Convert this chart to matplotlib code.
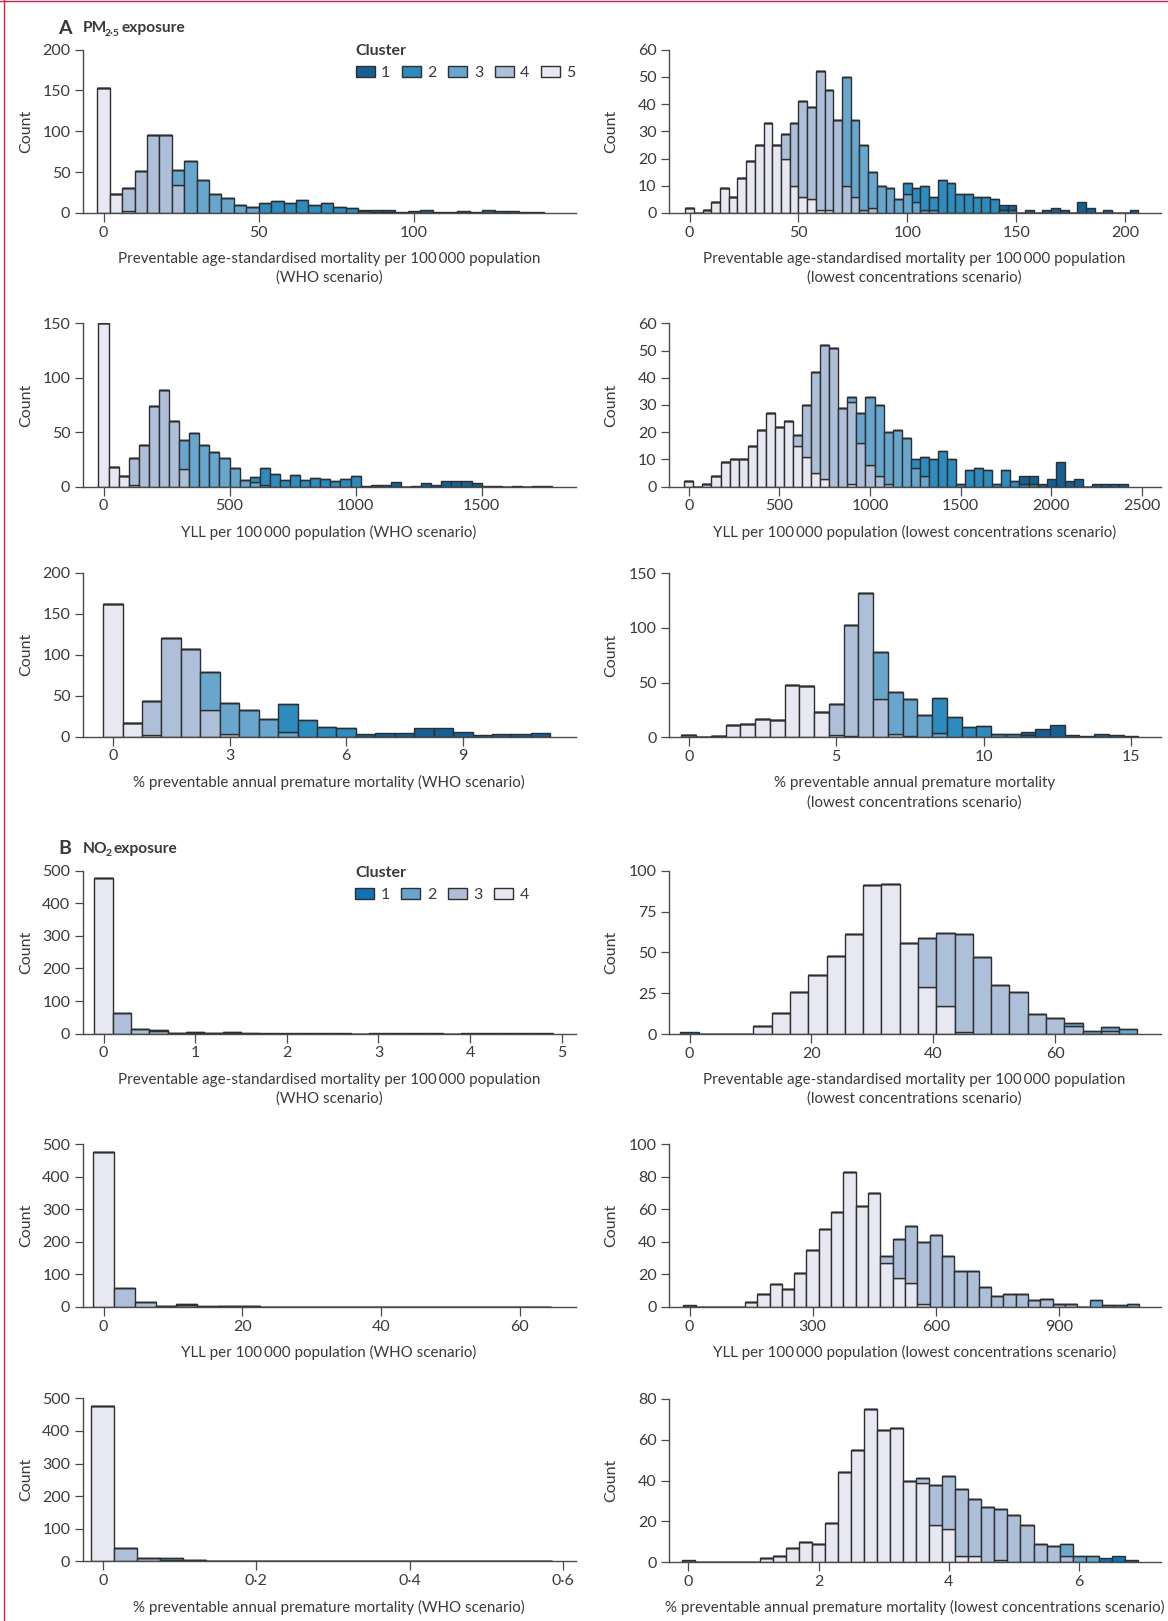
# -*- coding: utf-8 -*-
import numpy as np
import matplotlib
matplotlib.use('Agg')
import matplotlib.pyplot as plt
from matplotlib.lines import Line2D
from matplotlib.patches import Patch

W, H = 1168, 1621
TEXT = '#3a3a3a'
EDGE = '#2e2e2e'
AXIS = '#4a4a4a'
plt.rcParams['font.family'] = ['Lato', 'DejaVu Sans']

PM_COLORS = {1: '#175f92', 2: '#2e8bbd', 3: '#69a6cd', 4: '#aec0d9', 5: '#e8e8f2'}
NO_COLORS = {1: '#0f72b3', 2: '#69a6cd', 3: '#aec0d9', 4: '#e8e8f2'}

# PM2.5, WHO scenario: mortality (bin width 4)
A1_BIN = 4
A1_C5 = [153, 23, 3]
A1_C4 = [0, 0, 27, 51, 96, 96, 34]
A1_C3 = [0, 0, 0, 0, 0, 0, 18, 64, 40, 23, 18, 10, 7]
A1_C2 = [0, 0, 0, 0, 0, 0, 0, 0, 0, 0, 0, 0, 0, 12, 15, 12, 16, 10, 12, 7, 6, 3, 1, 1]
A1_C1 = [0, 0, 0, 0, 0, 0, 0, 0, 0, 0, 0, 0, 0, 0, 0, 0, 0, 0, 0, 0, 0, 1, 3, 3, 1, 3, 4, 1, 1, 2, 1, 4, 2, 2, 1, 1]

# PM2.5, lowest concentrations: mortality (bin width 4)
A2_BIN = 4
A2_C5 = [2, 0, 1, 4, 9, 6, 13, 19, 25, 33, 25, 20, 10, 6, 5, 1, 1]
A2_C4 = [0, 0, 0, 0, 0, 0, 0, 0, 0, 0, 0, 9, 23, 35, 34, 51, 44, 34, 10, 6, 1, 2]
A2_C3 = [0, 0, 0, 0, 0, 0, 0, 0, 0, 0, 0, 0, 0, 0, 0, 0, 0, 0, 40, 28, 24, 13, 10, 9, 5, 7, 4, 1, 1]
A2_C2 = [0, 0, 0, 0, 0, 0, 0, 0, 0, 0, 0, 0, 0, 0, 0, 0, 0, 0, 0, 0, 0, 0, 0, 0, 0, 4, 5, 9, 5, 12, 11, 7, 7, 6, 6, 5, 1, 1]
A2_C1 = [0, 0, 0, 0, 0, 0, 0, 0, 0, 0, 0, 0, 0, 0, 0, 0, 0, 0, 0, 0, 0, 0, 0, 0, 0, 0, 0, 0, 0, 0, 0, 0, 0, 0, 0, 0, 2, 2, 0, 1, 0, 1, 2, 1, 0, 4, 2, 0, 1, 0, 0, 1]

# PM2.5, WHO scenario: YLL (bin width 40)
A3_BIN = 40
A3_C5 = [150, 18, 10, 2]
A3_C4 = [0, 0, 0, 24, 38, 74, 89, 60, 16]
A3_C3 = [0, 0, 0, 0, 0, 0, 0, 0, 27, 49, 38, 32, 26, 17, 6, 4, 2]
A3_C2 = [0, 0, 0, 0, 0, 0, 0, 0, 0, 0, 0, 0, 0, 0, 0, 5, 15, 12, 6, 11, 6, 8, 7, 5, 7, 10]
A3_C1 = [0, 0, 0, 0, 0, 0, 0, 0, 0, 0, 0, 0, 0, 0, 0, 0, 0, 0, 0, 0, 0, 0, 0, 0, 0, 0, 1, 2, 2, 4, 0, 1, 3, 2, 5, 5, 5, 3, 1, 1, 0, 1, 0, 1, 1]

# PM2.5, lowest concentrations: YLL (bin width 50)
A4_BIN = 50
A4_C5 = [2, 0, 1, 4, 9, 10, 10, 15, 21, 27, 22, 24, 15, 11, 5, 3, 0, 0, 1]
A4_C4 = [0, 0, 0, 0, 0, 0, 0, 0, 0, 0, 0, 0, 4, 19, 37, 49, 51, 29, 30, 16, 8, 4, 1]
A4_C3 = [0, 0, 0, 0, 0, 0, 0, 0, 0, 0, 0, 0, 0, 0, 0, 0, 0, 0, 2, 11, 25, 26, 19, 21, 18, 7, 4]
A4_C2 = [0, 0, 0, 0, 0, 0, 0, 0, 0, 0, 0, 0, 0, 0, 0, 0, 0, 0, 0, 0, 0, 0, 0, 0, 0, 3, 7, 10, 13, 10, 1, 6, 7, 6, 1, 6, 2, 1, 1]
A4_C1 = [0, 0, 0, 0, 0, 0, 0, 0, 0, 0, 0, 0, 0, 0, 0, 0, 0, 0, 0, 0, 0, 0, 0, 0, 0, 0, 0, 0, 0, 0, 0, 0, 0, 0, 0, 0, 0, 3, 3, 1, 3, 9, 2, 3, 0, 1, 1, 1, 1]

# PM2.5, WHO scenario: % mortality (bin width 0.5)
A5_BIN = 0.5
A5_C5 = [162, 17, 2]
A5_C4 = [0, 0, 41, 120, 107, 32, 3]
A5_C3 = [0, 0, 0, 0, 0, 47, 38, 32, 21, 6]
A5_C2 = [0, 0, 0, 0, 0, 0, 0, 0, 0, 34, 20, 12, 11]
A5_C1 = [0, 0, 0, 0, 0, 0, 0, 0, 0, 0, 0, 0, 0, 3, 4, 4, 10, 10, 6, 2, 3, 3, 4]

# PM2.5, lowest concentrations: % mortality (bin width 0.5)
A6_BIN = 0.5
A6_C5 = [2, 0, 1, 11, 12, 17, 16, 48, 47, 23, 2, 1]
A6_C4 = [0, 0, 0, 0, 0, 0, 0, 0, 0, 0, 28, 102, 132, 35, 3, 1]
A6_C3 = [0, 0, 0, 0, 0, 0, 0, 0, 0, 0, 0, 0, 0, 43, 38, 34, 20, 4]
A6_C2 = [0, 0, 0, 0, 0, 0, 0, 0, 0, 0, 0, 0, 0, 0, 0, 0, 0, 32, 19, 9, 10, 3, 3, 2]
A6_C1 = [0, 0, 0, 0, 0, 0, 0, 0, 0, 0, 0, 0, 0, 0, 0, 0, 0, 0, 0, 0, 0, 0, 0, 3, 8, 11, 2, 1, 3, 2, 1]

# NO2, WHO scenario: mortality (bin width 0.2)
B1_BIN = 0.2
B1_C4 = [477]
B1_C3 = [0, 62, 14, 7, 2, 3, 1, 2]
B1_C2 = [0, 0, 0, 3, 1, 3, 2, 2, 1]
B1_C1 = [0, 0, 0, 0, 0, 0, 0, 0, 0, 1, 1, 1, 1, 1, 0, 1, 1, 1, 1, 0, 1, 1, 1, 1, 1]

# NO2, lowest concentrations: mortality (bin width 3)
B2_BIN = 3
B2_C4 = [0, 0, 0, 0, 5, 13, 26, 36, 48, 61, 91, 92, 56, 29, 17, 1]
B2_C3 = [0, 0, 0, 0, 0, 0, 0, 0, 0, 0, 0, 0, 0, 30, 45, 60, 47, 30, 26, 12, 10, 5, 0, 2]
B2_C2 = [0, 0, 0, 0, 0, 0, 0, 0, 0, 0, 0, 0, 0, 0, 0, 0, 0, 0, 0, 0, 0, 2, 2, 2, 3]
B2_C1 = [1]

# NO2, WHO scenario: YLL (bin width 3)
B3_BIN = 3
B3_C4 = [475]
B3_C3 = [0, 57, 14, 2, 5, 1, 2, 2]
B3_C2 = [0, 0, 0, 2, 5, 1, 2, 2, 1]
B3_C1 = [0, 0, 0, 0, 0, 0, 0, 0, 0, 1, 1, 1, 0, 1, 1, 1, 1, 1, 0, 1, 1, 1]

# NO2, lowest concentrations: YLL (bin width 30)
B4_BIN = 30
B4_C4 = [0, 0, 0, 0, 0, 3, 8, 14, 11, 21, 35, 48, 58, 83, 62, 70, 27, 18, 15, 2]
B4_C3 = [0, 0, 0, 0, 0, 0, 0, 0, 0, 0, 0, 0, 0, 0, 0, 0, 4, 24, 35, 38, 44, 31, 22, 22, 12, 7, 8, 8, 4, 5, 2, 2]
B4_C2 = [0, 0, 0, 0, 0, 0, 0, 0, 0, 0, 0, 0, 0, 0, 0, 0, 0, 0, 0, 0, 0, 0, 0, 0, 0, 0, 0, 0, 0, 0, 0, 0, 0, 4, 1, 1, 2]
B4_C1 = [1]

# NO2, WHO scenario: % mortality (bin width 0.03)
B5_BIN = 0.03
B5_C4 = [476]
B5_C3 = [0, 42, 9, 3, 3, 1, 1]
B5_C2 = [0, 0, 0, 8, 2, 1, 0, 1, 1]
B5_C1 = [0, 0, 0, 0, 0, 0, 0, 0, 0, 1, 1, 1, 1, 0, 0, 0, 1, 0, 0, 1]

# NO2, lowest concentrations: % mortality (bin width 0.2)
B6_BIN = 0.2
B6_C4 = [0, 0, 0, 0, 0, 0, 2, 3, 7, 10, 9, 19, 44, 55, 75, 65, 66, 40, 39, 18, 16, 3, 3, 0, 1]
B6_C3 = [0, 0, 0, 0, 0, 0, 0, 0, 0, 0, 0, 0, 0, 0, 0, 0, 0, 0, 2, 20, 26, 33, 28, 27, 25, 23, 18, 9, 8, 3]
B6_C2 = [0, 0, 0, 0, 0, 0, 0, 0, 0, 0, 0, 0, 0, 0, 0, 0, 0, 0, 0, 0, 0, 0, 0, 0, 0, 0, 0, 0, 0, 6, 3, 3]
B6_C1 = [1, 0, 0, 0, 0, 0, 0, 0, 0, 0, 0, 0, 0, 0, 0, 0, 0, 0, 0, 0, 0, 0, 0, 0, 0, 0, 0, 0, 0, 0, 0, 0, 2, 3, 1]

MORT = 'Preventable age-standardised mortality per 100\u2009000 population'
YLL = 'YLL per 100\u2009000 population'
PCT = '% preventable annual premature mortality'

# pixel boxes: left, right, top, bottom, px of x=0, px of last tick
PANELS = [
    ((A1_C5, A1_C4, A1_C3, A1_C2, A1_C1), A1_BIN, PM_COLORS, (82.8, 575.6, 49.5, 213, 103.5, 413.9),
     [0, 50, 100], ['0', '50', '100'], [0, 50, 100, 150, 200], MORT + '\n(WHO scenario)'),
    ((A2_C5, A2_C4, A2_C3, A2_C2, A2_C1), A2_BIN, PM_COLORS, (669, 1161, 49.5, 213, 689.5, 1125.2),
     [0, 50, 100, 150, 200], ['0', '50', '100', '150', '200'], [0, 10, 20, 30, 40, 50, 60],
     MORT + '\n(lowest concentrations scenario)'),
    ((A3_C5, A3_C4, A3_C3, A3_C2, A3_C1), A3_BIN, PM_COLORS, (82.8, 575.6, 323.3, 486.7, 103.5, 481.6),
     [0, 500, 1000, 1500], ['0', '500', '1000', '1500'], [0, 50, 100, 150], YLL + ' (WHO scenario)'),
    ((A4_C5, A4_C4, A4_C3, A4_C2, A4_C1), A4_BIN, PM_COLORS, (669, 1161, 323.3, 486.7, 688.8, 1141.8),
     [0, 500, 1000, 1500, 2000, 2500], ['0', '500', '1000', '1500', '2000', '2500'], [0, 10, 20, 30, 40, 50, 60],
     YLL + ' (lowest concentrations scenario)'),
    ((A5_C5, A5_C4, A5_C3, A5_C2, A5_C1), A5_BIN, PM_COLORS, (82.8, 575.6, 572.7, 736.7, 112.9, 462.8),
     [0, 3, 6, 9], ['0', '3', '6', '9'], [0, 50, 100, 150, 200], PCT + ' (WHO scenario)'),
    ((A6_C5, A6_C4, A6_C3, A6_C2, A6_C1), A6_BIN, PM_COLORS, (669, 1161, 573.3, 737.3, 688.8, 1131.1),
     [0, 5, 10, 15], ['0', '5', '10', '15'], [0, 50, 100, 150], PCT + '\n(lowest concentrations scenario)'),
    ((B1_C4, B1_C3, B1_C2, B1_C1), B1_BIN, NO_COLORS, (82.8, 575.6, 870.7, 1033.7, 103.5, 561.7),
     [0, 1, 2, 3, 4, 5], ['0', '1', '2', '3', '4', '5'], [0, 100, 200, 300, 400, 500], MORT + '\n(WHO scenario)'),
    ((B2_C4, B2_C3, B2_C2, B2_C1), B2_BIN, NO_COLORS, (669, 1161, 870.7, 1034, 689.5, 1055.2),
     [0, 20, 40, 60], ['0', '20', '40', '60'], [0, 25, 50, 75, 100], MORT + '\n(lowest concentrations scenario)'),
    ((B3_C4, B3_C3, B3_C2, B3_C1), B3_BIN, NO_COLORS, (82.8, 575.6, 1144, 1307, 103.5, 520),
     [0, 20, 40, 60], ['0', '20', '40', '60'], [0, 100, 200, 300, 400, 500], YLL + ' (WHO scenario)'),
    ((B4_C4, B4_C3, B4_C2, B4_C1), B4_BIN, NO_COLORS, (669, 1161, 1144, 1307, 689.5, 1058.9),
     [0, 300, 600, 900], ['0', '300', '600', '900'], [0, 20, 40, 60, 80, 100], YLL + ' (lowest concentrations scenario)'),
    ((B5_C4, B5_C3, B5_C2, B5_C1), B5_BIN, NO_COLORS, (82.8, 575.6, 1398.3, 1561.3, 102.7, 563.2),
     [0, 0.2, 0.4, 0.6], ['0', '0·2', '0·4', '0·6'], [0, 100, 200, 300, 400, 500], PCT + ' (WHO scenario)'),
    ((B6_C4, B6_C3, B6_C2, B6_C1), B6_BIN, NO_COLORS, (669, 1161, 1399, 1562, 688.4, 1079.1),
     [0, 2, 4, 6], ['0', '2', '4', '6'], [0, 20, 40, 60, 80], PCT + ' (lowest concentrations scenario)'),
]


def fx(x):
    return x / W


def fy(y):
    return 1 - y / H


def draw_panel(fig, series, bin_width, colors, box, xticks, xlabels, yticks, xlabel):
    left, right, top, bottom, px0, px1 = box
    ax = fig.add_axes([fx(left), fy(bottom), (right - left) / W, (bottom - top) / H])
    n = max(len(s) for s in series)
    centers = np.arange(n) * bin_width
    running = np.zeros(n)
    # lightest cluster sits at the bottom of each stack
    ids = sorted(colors, reverse=True)
    for cid, s in zip(ids, series):
        vals = np.zeros(n)
        vals[:len(s)] = s
        ax.bar(centers, vals, bin_width, bottom=running, color=colors[cid],
               edgecolor=EDGE, linewidth=1.0)
        running += vals

    scale = (px1 - px0) / xticks[-1]
    ax.set_xlim((left - px0) / scale, (right - px0) / scale)
    ax.set_ylim(0, yticks[-1])
    ax.set_xticks(xticks)
    ax.set_xticklabels(xlabels)
    ax.set_yticks(yticks)
    ax.spines['top'].set_visible(False)
    ax.spines['right'].set_visible(False)
    for side in ['left', 'bottom']:
        ax.spines[side].set_color(AXIS)
        ax.spines[side].set_linewidth(1.0)
    ax.tick_params(axis='x', length=6.2, width=0.9, color=AXIS, labelcolor=TEXT, labelsize=11.5, pad=3)
    ax.tick_params(axis='y', length=6, width=0.9, color=AXIS, labelcolor=TEXT, labelsize=11.5, pad=3)

    # axis titles sit at fixed offsets from the plot box
    cx = 329 if left < 300 else 914.5
    two_lines = '\n' in xlabel
    cy = bottom + (55.4 if two_lines else 45.8)
    fig.text(fx(cx), fy(cy), xlabel, ha='center', va='center', fontsize=10.9,
             color=TEXT, linespacing=1.42)
    fig.text(fx(26 if left < 300 else 611), fy((top + bottom) / 2), 'Count', rotation=90,
             ha='center', va='center', fontsize=11.5, color=TEXT)
    return ax


def add_legend(ax, colors, x, y):
    handles = [Patch(facecolor=colors[c], edgecolor=EDGE, linewidth=1.0, label=str(c)) for c in sorted(colors)]
    leg = ax.legend(handles=handles, ncols=len(handles), title='Cluster', loc='upper left',
                    bbox_to_anchor=(fx(x), fy(y)), bbox_transform=ax.figure.transFigure,
                    frameon=False, fontsize=11.5, borderpad=0, borderaxespad=0,
                    handlelength=1.2, handleheight=0.72, handletextpad=0.4, columnspacing=0.72,
                    labelcolor=TEXT, title_fontproperties={'weight': 'bold', 'size': 11.5})
    leg.get_title().set_color(TEXT)
    leg._legend_box.align = 'left'


def add_heading(fig, letter, y, sub, x_sub, x_rest, first, rest):
    fig.text(fx(58), fy(y), letter, fontsize=14, fontweight='bold', color=TEXT, va='center')
    fig.text(fx(82.5), fy(y), first, fontsize=11.2, fontweight='bold', color=TEXT, va='center')
    fig.text(fx(x_sub), fy(y + 5), sub, fontsize=7.5, fontweight='bold', color=TEXT, va='center')
    fig.text(fx(x_rest), fy(y), rest, fontsize=11.2, fontweight='bold', color=TEXT, va='center')


fig = plt.figure(figsize=(W / 100, H / 100), dpi=100, facecolor='white')

axes = []
for series, bin_width, colors, box, xticks, xlabels, yticks, xlabel in PANELS:
    axes.append(draw_panel(fig, series, bin_width, colors, box, xticks, xlabels, yticks, xlabel))

add_legend(axes[0], PM_COLORS, 355.5, 44)
add_legend(axes[6], NO_COLORS, 355, 866)

add_heading(fig, 'A', 28, '2·5', 105, 121, 'PM', 'exposure')
add_heading(fig, 'B', 849, '2', 105.5, 113.5, 'NO', 'exposure')

# page border of the source figure
fig.add_artist(Line2D([fx(4), fx(4)], [0, 1], color='#c8264f', linewidth=1.0))
fig.add_artist(Line2D([0, 1], [fy(0.5), fy(0.5)], color='#c8264f', linewidth=1.0))

fig.savefig('out.png', dpi=100)
